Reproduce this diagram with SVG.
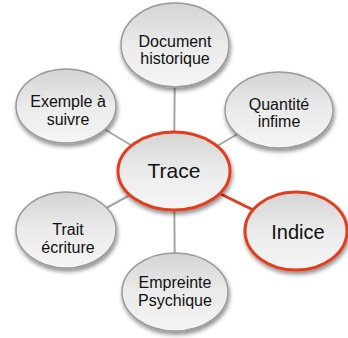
<svg xmlns="http://www.w3.org/2000/svg" width="348" height="338" viewBox="0 0 348 338">
<style>
.node{fill:url(#g);stroke:#9a9a9a;stroke-width:1.5;filter:url(#sh)}
.hot{fill:url(#g);stroke:#e23d1c;stroke-width:3;filter:url(#sh)}
.t{font-family:"Liberation Sans",Arial,sans-serif;font-size:16px;fill:#111;text-anchor:middle}
.big{font-size:21px}
.mid{font-size:20px}
.c{stroke:#a6a6a6;stroke-width:2;fill:none}
.cr{stroke:#e23d1c;stroke-width:3;fill:none}
</style>
<defs>
<linearGradient id="g" x1="0" y1="0" x2="0" y2="1">
<stop offset="0" stop-color="#d4d4d4"/>
<stop offset="0.5" stop-color="#ebebeb"/>
<stop offset="1" stop-color="#f5f5f5"/>
</linearGradient>
<filter id="sh" x="-20%" y="-20%" width="150%" height="150%">
<feGaussianBlur in="SourceAlpha" stdDeviation="2.2"/>
<feOffset dx="1" dy="3" result="b"/>
<feComponentTransfer><feFuncA type="linear" slope="0.45"/></feComponentTransfer>
<feMerge><feMergeNode/><feMergeNode in="SourceGraphic"/></feMerge>
</filter>
</defs>
<rect width="348" height="338" fill="#fff"/>
<g id="connectors">
<line class="c" x1="174" y1="171" x2="175" y2="45"/>
<line class="c" x1="174" y1="171" x2="175" y2="292"/>
<line class="c" x1="174" y1="171" x2="66" y2="106"/>
<line class="c" x1="174" y1="171" x2="66" y2="230"/>
<line class="c" x1="174" y1="171" x2="279" y2="110"/>
<line class="cr" x1="174" y1="171" x2="296" y2="231"/>
</g>
<g id="document">
<ellipse class="node" cx="175" cy="45" rx="54" ry="42"/>
<text class="t" x="175" y="47">Document</text>
<text class="t" x="175" y="64">historique</text>
</g>
<g id="exemple">
<ellipse class="node" cx="66" cy="106" rx="50" ry="37"/>
<text class="t" x="68" y="107">Exemple à</text>
<text class="t" x="68" y="125">suivre</text>
</g>
<g id="quantite">
<ellipse class="node" cx="279" cy="110" rx="54" ry="38"/>
<text class="t" x="279" y="110">Quantité</text>
<text class="t" x="279" y="127">infime</text>
</g>
<g id="trait">
<ellipse class="node" cx="66" cy="230" rx="50" ry="38"/>
<text class="t" x="68" y="235">Trait</text>
<text class="t" x="68" y="253">écriture</text>
</g>
<g id="empreinte">
<ellipse class="node" cx="175" cy="292" rx="53" ry="39"/>
<text class="t" x="175" y="288">Empreinte</text>
<text class="t" x="175" y="306">Psychique</text>
</g>
<g id="trace">
<ellipse class="hot" cx="174" cy="171" rx="56" ry="39"/>
<text class="t big" x="174" y="178">Trace</text>
</g>
<g id="indice">
<ellipse class="hot" cx="296" cy="231" rx="51" ry="39"/>
<text class="t mid" x="298" y="239">Indice</text>
</g>
</svg>
